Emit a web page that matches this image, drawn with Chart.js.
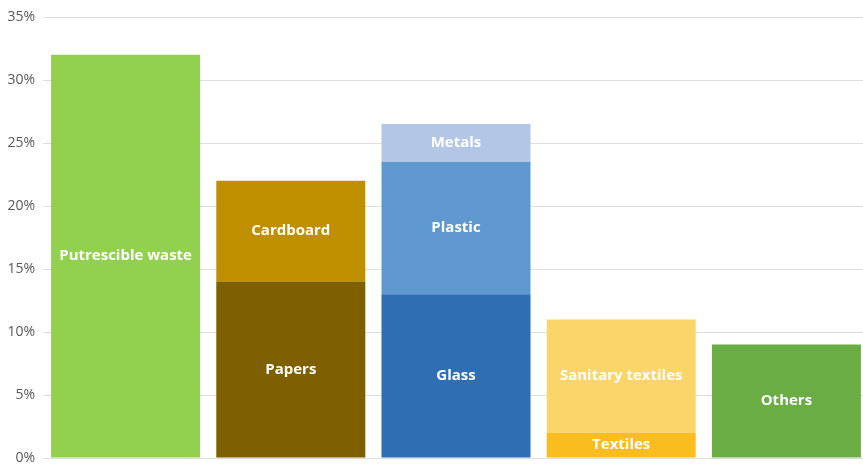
<!DOCTYPE html>
<html>
<head>
<meta charset="utf-8">
<script src="https://cdn.jsdelivr.net/npm/chart.js@4/dist/chart.umd.min.js"></script>
<style>
  html, body { margin: 0; padding: 0; background: #fff; overflow: hidden; }
  #wrap { width: 863px; height: 464px; overflow: hidden; }
</style>
</head>
<body>
<!-- plot runs a few px past the right edge, so the last column sits flush -->
<div id="wrap"><canvas id="wasteChart" width="869" height="464"></canvas></div>
<script>
  // five columns, each built from up to three stacked layers (% of total waste)
  const categories = ['Putrescible', 'Paper & cardboard', 'Glass, plastic & metals', 'Textiles', 'Others'];

  const baseValues = [32, 14, 13, 2, 9];
  const baseNames = ['Putrescible waste', 'Papers', 'Glass', 'Textiles', 'Others'];
  const baseColors = ['#92d050', '#7f6000', '#2e6fb4', '#f9bd1f', '#6aad45'];

  const midValues = [null, 8, 10.5, 9, null];
  const midNames = ['', 'Cardboard', 'Plastic', 'Sanitary textiles', ''];
  const midColors = ['#92d050', '#bf8f00', '#5e98cf', '#fcd56a', '#6aad45'];

  const topValues = [null, null, 3, null, null];
  const topNames = ['', '', 'Metals', '', ''];
  const topColors = ['#92d050', '#bf8f00', '#b3c6e6', '#fcd56a', '#6aad45'];

  const yTicks = [0, 5, 10, 15, 20, 25, 30, 35];

  // writes each segment's name in the middle of its box
  const segmentNames = {
    id: 'segmentNames',
    afterDatasetsDraw(chart) {
      const c = chart.ctx;
      c.save();
      c.fillStyle = '#ffffff';
      c.font = 'bold 15px "Open Sans", Lato, sans-serif';
      c.textAlign = 'center';
      c.textBaseline = 'middle';
      chart.data.datasets.forEach((ds, i) => {
        const meta = chart.getDatasetMeta(i);
        meta.data.forEach((bar, j) => {
          const name = ds.names[j];
          if (!name || ds.data[j] == null) return;
          const { x, y, base } = bar.getProps(['x', 'y', 'base'], true);
          c.fillText(name, x, (y + base) / 2);
        });
      });
      c.restore();
    }
  };

  new Chart(document.getElementById('wasteChart'), {
    type: 'bar',
    data: {
      labels: categories,
      datasets: [
        { data: baseValues, names: baseNames, backgroundColor: baseColors },
        { data: midValues, names: midNames, backgroundColor: midColors },
        { data: topValues, names: topNames, backgroundColor: topColors }
      ]
    },
    options: {
      responsive: false,
      animation: false,
      categoryPercentage: 1,
      barPercentage: 0.902,
      layout: { padding: { top: 17, bottom: 6, right: 0, left: 0 } },
      plugins: { legend: { display: false }, tooltip: { enabled: false } },
      scales: {
        x: { stacked: true, display: false },
        y: {
          stacked: true,
          min: 0,
          max: 35,
          afterBuildTicks(axis) { axis.ticks = yTicks.map(v => ({ value: v })); },
          afterFit(axis) {
            axis.width = 43;
            axis.paddingTop = 0;
            axis.paddingBottom = 0;
          },
          border: { display: false },
          grid: { color: '#dedede', lineWidth: 1, drawTicks: true, tickLength: 8, tickColor: '#ffffff' },
          ticks: {
            color: '#595959',
            padding: 0,
            font: { family: '"Open Sans", Lato, sans-serif', size: 14 },
            callback: v => v + '%'
          }
        }
      }
    },
    plugins: [segmentNames]
  });
</script>
</body>
</html>
